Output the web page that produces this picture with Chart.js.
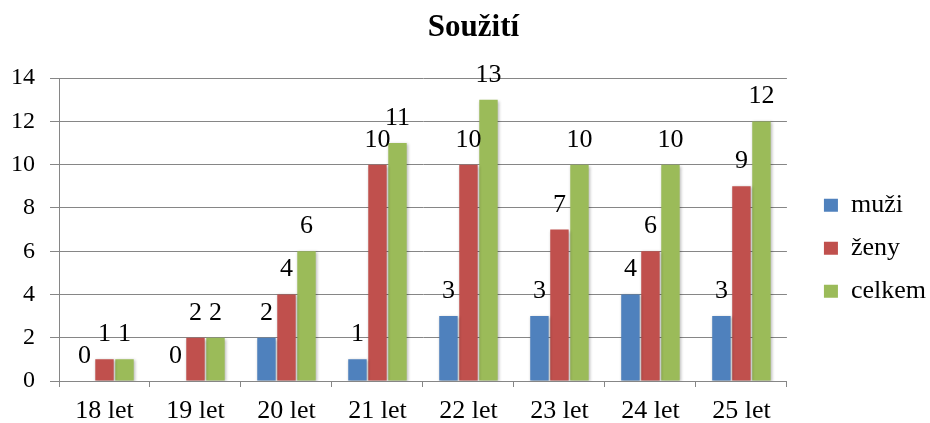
<html>
  <head>
    <script src="https://cdn.jsdelivr.net/npm/chart.js@4.4.1/dist/chart.umd.min.js"></script>
    <style>
      body {
        margin: 0;
        background: #fff;
      }
      #wrap {
        width: 930px;
        height: 423px;
      }
    </style>
  </head>
  <body>
    <div id="wrap"><canvas id="chart"></canvas></div>
    <script>
      const categories = ["18 let", "19 let", "20 let", "21 let", "22 let", "23 let", "24 let", "25 let"];
      const muzi = [0, 0, 2, 1, 3, 3, 4, 3];
      const zeny = [1, 2, 4, 10, 10, 7, 6, 9];
      const celkem = [1, 2, 6, 11, 13, 10, 10, 12];
      const series_names = ["muži", "ženy", "celkem"];
      const series_colors = ["#4f81bd", "#c0504d", "#9bbb59"];

      const serif = "'Times New Roman', 'Liberation Serif', serif";
      Chart.defaults.color = "#000";
      Chart.defaults.font.family = serif;

      // soft shadow round the bars, like the office chart style
      const bar_shadow = {
        id: "bar_shadow",
        beforeDatasetsDraw: (chart) => {
          const ctx = chart.ctx;
          ctx.save();
          ctx.shadowColor = "rgba(0,0,0,0.28)";
          ctx.shadowBlur = 3;
          ctx.shadowOffsetX = 1;
          ctx.shadowOffsetY = 1;
        },
        afterDatasetsDraw: (chart) => {
          chart.ctx.restore();
        },
      };

      // value above every bar
      const value_labels = {
        id: "value_labels",
        afterDraw: (chart) => {
          const ctx = chart.ctx;
          ctx.save();
          ctx.font = `26px ${serif}`;
          ctx.fillStyle = "#000";
          ctx.textAlign = "center";
          ctx.textBaseline = "alphabetic";
          chart.data.datasets.forEach((ds, i) => {
            const meta = chart.getDatasetMeta(i);
            meta.data.forEach((bar, j) => {
              ctx.fillText(String(ds.data[j]), bar.x, bar.y - 18);
            });
          });
          ctx.restore();
        },
      };

      const grid_color = "#868686";

      new Chart(document.getElementById("chart"), {
        type: "bar",
        data: {
          labels: categories,
          datasets: [muzi, zeny, celkem].map((values, i) => ({
            label: series_names[i],
            data: values,
            backgroundColor: series_colors[i],
            borderWidth: 0,
            barPercentage: 0.92,
            categoryPercentage: 0.66,
          })),
        },
        options: {
          responsive: true,
          maintainAspectRatio: false,
          animation: false,
          layout: { padding: { left: 11, right: -6, top: 0, bottom: 0 } },
          scales: {
            x: {
              grid: {
                offset: true,
                drawOnChartArea: false,
                tickLength: 6,
                color: grid_color,
              },
              border: { color: grid_color },
              ticks: { font: { size: 26, lineHeight: 1 }, padding: 11 },
              afterFit: (scale) => {
                scale.height = 42;
              },
            },
            y: {
              min: 0,
              max: 14,
              ticks: { stepSize: 2, font: { size: 24 }, padding: 15 },
              grid: { color: grid_color, tickLength: 9 },
              border: { color: grid_color },
              afterFit: (scale) => {
                scale.width = 48;
              },
            },
            // empty axis, only keeps a gap between the plot and the legend
            spacer: {
              type: "linear",
              position: "right",
              grid: { display: false },
              border: { display: false },
              ticks: { display: false },
              afterFit: (scale) => {
                scale.width = 20;
              },
            },
          },
          plugins: {
            title: {
              display: true,
              text: "Soužití",
              font: { size: 31, weight: "bold" },
              padding: { top: 9, bottom: 32 },
            },
            legend: {
              position: "right",
              fullSize: false,
              title: { display: true, text: " ", font: { size: 31, lineHeight: 1.2 }, padding: 0 },
              labels: {
                boxWidth: 14,
                boxHeight: 13,
                padding: 17,
                font: { size: 26 },
              },
            },
            tooltip: { enabled: false },
          },
        },
        plugins: [bar_shadow, value_labels],
      });
    </script>
  </body>
</html>
